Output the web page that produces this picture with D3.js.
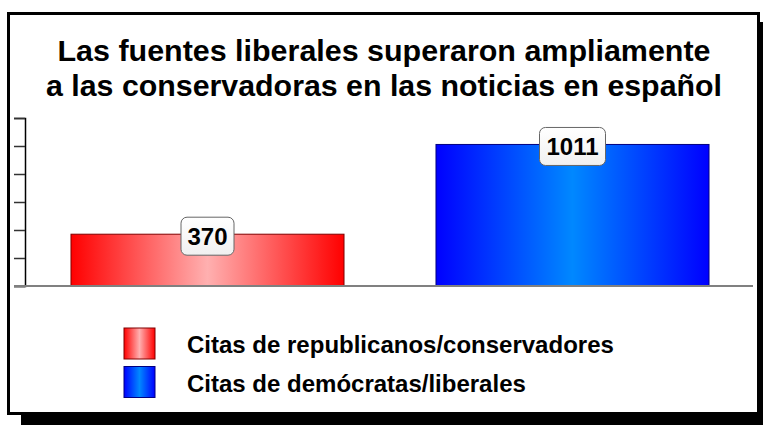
<!DOCTYPE html>
<html><head><meta charset="utf-8">
<script src="https://cdn.jsdelivr.net/npm/d3@7"></script>
<style>body{margin:0;background:#fff}svg{display:block}text{font-family:"Liberation Sans",Arial,sans-serif;font-weight:bold}</style>
</head><body>
<svg id="c" width="763" height="425"></svg>
<script>
const categories = ["Citas de republicanos/conservadores", "Citas de demócratas/liberales"];
const values = [370, 1011];
const titleLines = ["Las fuentes liberales superaron ampliamente", "a las conservadoras en las noticias en español"];
const yTicks = [0, 200, 400, 600, 800, 1000, 1200];
const colors = [
  {edge:"#ff0000", mid:"#ffb0b0", stroke:"#800000"},
  {edge:"#0000ff", mid:"#0088ff", stroke:"#000080"}
];

const svg = d3.select("#c");
const defs = svg.append("defs");
colors.forEach((c,i)=>{
  const g = defs.append("linearGradient").attr("id","g"+i).attr("x1","0").attr("x2","1").attr("y1","0").attr("y2","0");
  g.append("stop").attr("offset","0").attr("stop-color",c.edge);
  g.append("stop").attr("offset","0.5").attr("stop-color",c.mid);
  g.append("stop").attr("offset","1").attr("stop-color",c.edge);
});
const lg = defs.append("linearGradient").attr("id","lab").attr("x1","0").attr("x2","0").attr("y1","0").attr("y2","1");
lg.append("stop").attr("offset","0").attr("stop-color","#ffffff");
lg.append("stop").attr("offset","1").attr("stop-color","#f0f0f0");

// frame with shadow
svg.append("rect").attr("x",21).attr("y",22).attr("width",760).attr("height",410).attr("fill","#000");
svg.append("rect").attr("x",8.5).attr("y",13.5).attr("width",750).attr("height",400).attr("fill","#fff").attr("stroke","#000").attr("stroke-width",3);

// title
const titleW = [653, 676];
svg.append("g").selectAll("text").data(titleLines).join("text")
  .attr("x",384).attr("y",(d,i)=>61+i*34.5).attr("text-anchor","middle")
  .attr("font-size",30).attr("fill","#000")
  .attr("textLength",(d,i)=>titleW[i]).attr("lengthAdjust","spacingAndGlyphs").text(d=>d);

const x = d3.scaleBand().domain(categories).range([25,755]).paddingInner(0.252).paddingOuter(0.126);
const y = d3.scaleLinear().domain([0,1200]).range([286,118]);

// axis
const ax = svg.append("g").attr("transform","translate(25,0)")
  .call(d3.axisLeft(y).tickValues(yTicks).tickSize(11).tickFormat(""));
ax.select(".domain").attr("stroke","#000").attr("stroke-width",1.5);
ax.selectAll(".tick line").attr("stroke","#333").attr("stroke-width",1.5);

// bars
svg.append("g").selectAll("rect").data(values).join("rect")
  .attr("x",(d,i)=>x(categories[i])).attr("y",d=>y(d))
  .attr("width",x.bandwidth()).attr("height",d=>y(0)-y(d))
  .attr("fill",(d,i)=>`url(#g${i})`).attr("stroke",(d,i)=>colors[i].stroke).attr("stroke-width",1);

// baseline
svg.append("line").attr("x1",14).attr("x2",753).attr("y1",y(0)).attr("y2",y(0)).attr("stroke","#808080").attr("stroke-width",2);

// labels
const lab = svg.append("g").selectAll("g").data(values).join("g")
  .attr("transform",(d,i)=>`translate(${x(categories[i])+x.bandwidth()/2},${y(d)+2})`);
lab.append("rect").attr("x",d=>-(String(d).length*13+14)/2).attr("y",-19)
  .attr("width",d=>String(d).length*13+14).attr("height",38).attr("rx",6)
  .attr("fill","url(#lab)").attr("stroke","#666").attr("stroke-width",1);
lab.append("text").attr("text-anchor","middle").attr("y",8.5).attr("font-size",24).attr("fill","#000").text(d=>d);

// legend
const leg = svg.append("g").selectAll("g").data(categories).join("g")
  .attr("transform",(d,i)=>`translate(124,${328+i*38.5})`);
leg.append("rect").attr("width",31).attr("height",31).attr("fill",(d,i)=>`url(#g${i})`).attr("stroke",(d,i)=>colors[i].stroke);
leg.append("text").attr("x",63).attr("y",25).attr("font-size",24).attr("fill","#000").text(d=>d);
</script>
</body></html>
